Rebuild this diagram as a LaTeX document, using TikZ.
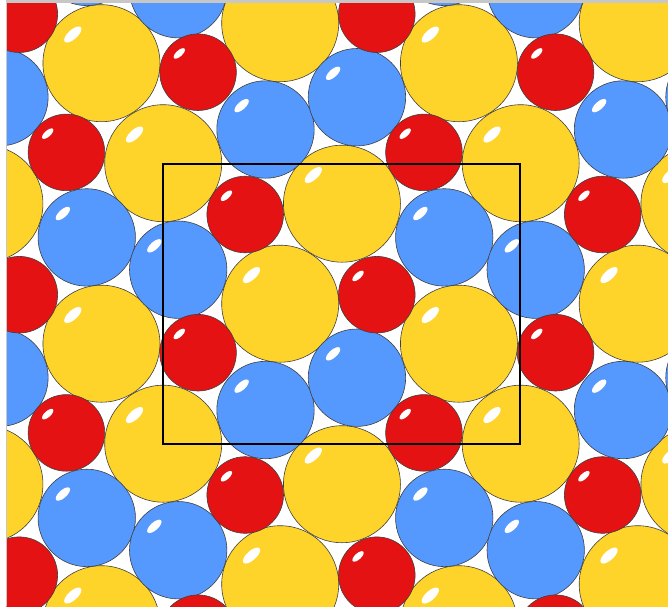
\documentclass[tikz,border=0pt]{standalone}
\usepackage{xcolor}
\usepackage{tikz}

\definecolor{ballyellow}{HTML}{FFD42A}
\definecolor{ballblue}{HTML}{5599FF}
\definecolor{ballred}{HTML}{E41212}

\tikzset{
  ball/.style={draw=black!75,line width=0.6pt},
  shine/.style={fill=white},
  cellframe/.style={draw=black,line width=1.8pt},
  frameline/.style={draw=black!22,line width=0.8pt},
}

% one shaded ball: x, y, radius, colour
\newcommand{\drawball}[4]{%
  \begin{scope}[shift={(#1,#2)}]
    \filldraw[ball,fill=#4] (0,0) circle[radius=#3pt];
    \fill[shine] (-0.49*#3,-0.49*#3)
       circle[x radius=0.185*#3pt,y radius=0.08*#3pt,rotate=42];
  \end{scope}}

% repeat a set of balls over the 3x3 neighbouring cells
\newcommand{\latticeballs}[3]{%
  \foreach \i in {-1,0,1}{%
    \foreach \j in {-1,0,1}{%
      \foreach \px/\py in {#3}{%
        \drawball{163.2+357.5*\i+\px}{163.2+280.5*\j+\py}{#1}{#2}}}}}

\begin{document}
\begin{tikzpicture}[x=1pt,y=-1pt]
\useasboundingbox (0,0) rectangle (668,606);
\fill[white] (0,0) rectangle (668,606);

% ---- packing ----
\begin{scope}
  \clip (6.3,3.3) rectangle (668,606);
  \latticeballs{58.5}{ballyellow}{0/0, 117/140.5, 178.75/40.5, 295.75/180.5}
  \latticeballs{48.7}{ballblue}{15/106.5, 102.3/246.8, 193.75/214.5, 281.05/74.2}
  \latticeballs{38.3}{ballred}{82/51.3, 213.6/131.5, 260.75/269.7, 34.85/189.5}
\end{scope}

% ---- page edges ----
\fill[black!22] (6,0) rectangle (668,2.7);
\draw[frameline] (6.3,2.7) -- (6.3,606);

% ---- unit cell ----
\coordinate (cellorigin) at (163.2,163.6);
\coordinate (cellend) at (520.3,444.2);
\draw[cellframe] (cellorigin) rectangle (cellend);
\end{tikzpicture}
\end{document}
